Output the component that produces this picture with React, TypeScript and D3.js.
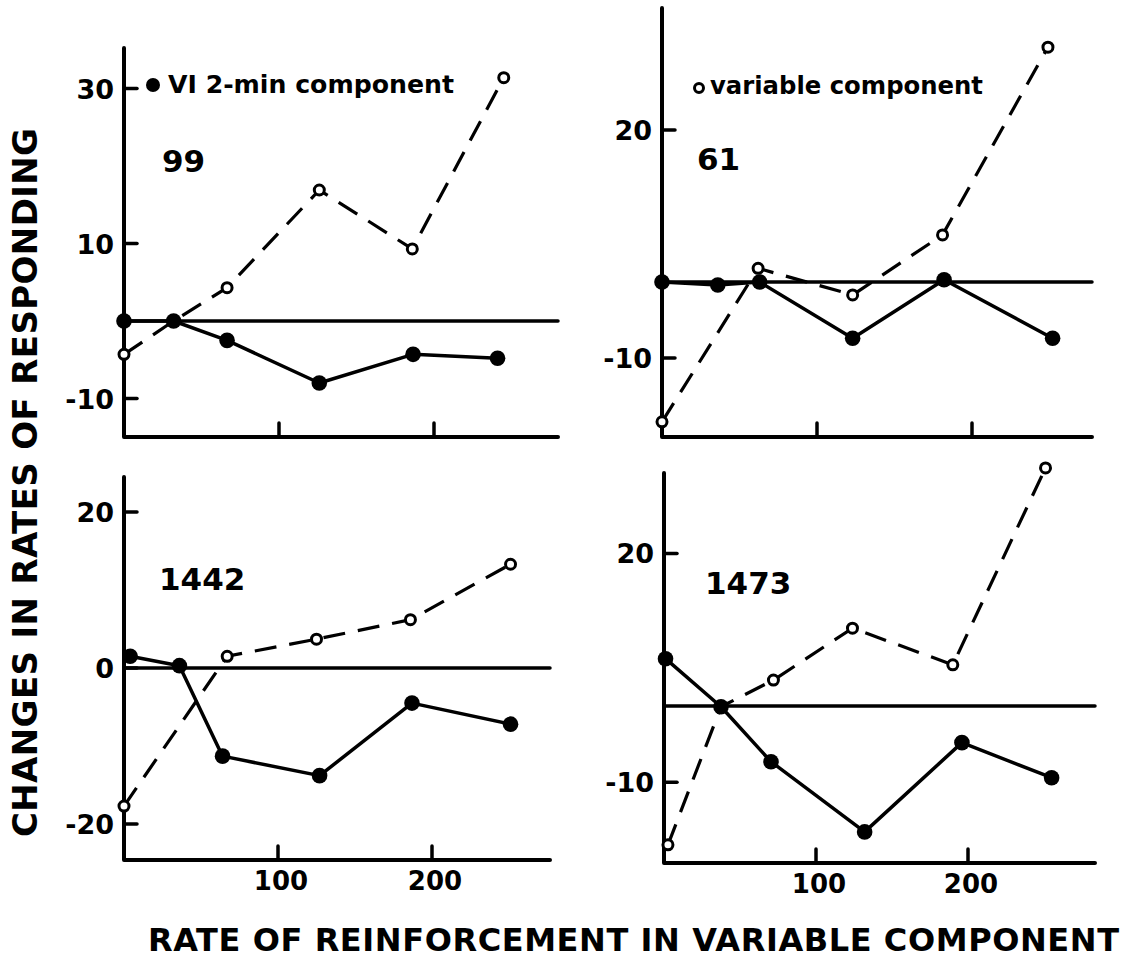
import React from "react";
import * as d3 from "d3";

// ---------- data ----------
const SUBJECTS = ["99", "61", "1442", "1473"];
const X_TICKS = [100, 200];

// subject 99
const s99ViX = [0, 32, 66.5, 126, 186.5, 241];
const s99ViY = [0, 0, -2.5, -8.0, -4.3, -4.8];
const s99VarX = [0, 32, 66.5, 126, 186, 245];
const s99VarY = [-4.3, 0, 4.3, 16.9, 9.3, 31.4];
const s99YTicks = [30, 10, -10];

// subject 61
const s61ViX = [0, 36, 63, 123, 182, 252];
const s61ViY = [0, -0.4, 0, -7.4, 0.3, -7.4];
const s61VarX = [0, 62, 123, 181, 249];
const s61VarY = [-18.4, 1.8, -1.7, 6.2, 30.9];
const s61YTicks = [20, -10];

// subject 1442
const s1442ViX = [4, 36, 64, 127, 187, 251];
const s1442ViY = [1.5, 0.3, -11.3, -13.8, -4.5, -7.2];
const s1442VarX = [0, 67, 125, 186, 251];
const s1442VarY = [-17.7, 1.5, 3.7, 6.2, 13.3];
const s1442YTicks = [20, 0, -20];

// subject 1473
const s1473ViX = [1, 37.5, 70.4, 132, 196, 255];
const s1473ViY = [6.2, -0.1, -7.3, -16.5, -4.8, -9.4];
const s1473VarX = [2.6, 37.5, 72, 124, 190, 251];
const s1473VarY = [-18.2, -0.1, 3.4, 10.2, 5.4, 31.2];
const s1473YTicks = [20, -10];

const LEGEND_VI = "VI 2-min component";
const LEGEND_VAR = "variable component";
const X_TITLE = "RATE OF REINFORCEMENT IN VARIABLE COMPONENT";
const Y_TITLE = "CHANGES IN RATES OF RESPONDING";

const SERIES = [
  { viX: s99ViX, viY: s99ViY, varX: s99VarX, varY: s99VarY, yTicks: s99YTicks },
  { viX: s61ViX, viY: s61ViY, varX: s61VarX, varY: s61VarY, yTicks: s61YTicks },
  { viX: s1442ViX, viY: s1442ViY, varX: s1442VarX, varY: s1442VarY, yTicks: s1442YTicks },
  { viX: s1473ViX, viY: s1473ViY, varX: s1473VarX, varY: s1473VarY, yTicks: s1473YTicks },
];

// ---------- layout (pixels) ----------
const FRAMES = [
  { x0: 124, x1: 558, top: 48, bot: 437, pxX: 1.55, zeroY: 321, pxY: 7.75, label: [162, 172], showXLabels: false },
  { x0: 662, x1: 1092, top: 8, bot: 437, pxX: 1.55, zeroY: 282, pxY: 7.6, label: [697, 170], showXLabels: false },
  { x0: 124, x1: 550, top: 477, bot: 860, pxX: 1.54, zeroY: 668, pxY: 7.8, label: [159, 590], showXLabels: true },
  { x0: 664, x1: 1095, top: 473, bot: 863, pxX: 1.52, zeroY: 706, pxY: 7.63, label: [705, 594], showXLabels: true },
];

const FONT = "'DejaVu Sans', 'Liberation Sans', sans-serif";
const INK = "#000";

function Panel({ idx }: { idx: number }) {
  const f = FRAMES[idx];
  const s = SERIES[idx];
  const x = d3.scaleLinear().domain([0, (f.x1 - f.x0) / f.pxX]).range([f.x0, f.x1]);
  const y = d3
    .scaleLinear()
    .domain([-(f.bot - f.zeroY) / f.pxY, (f.zeroY - f.top) / f.pxY])
    .range([f.bot, f.top]);
  const line = d3
    .line<[number, number]>()
    .x((d) => x(d[0]))
    .y((d) => y(d[1]));
  const vi: [number, number][] = s.viX.map((v, i) => [v, s.viY[i]]);
  const vr: [number, number][] = s.varX.map((v, i) => [v, s.varY[i]]);
  return (
    <g>
      {/* axes */}
      <path
        d={`M${f.x0},${f.top}L${f.x0},${f.bot}L${f.x1},${f.bot}`}
        fill="none"
        stroke={INK}
        strokeWidth={4}
        strokeLinecap="round"
        strokeLinejoin="round"
      />
      {/* zero line */}
      <line x1={f.x0} x2={f.x1} y1={y(0)} y2={y(0)} stroke={INK} strokeWidth={3.5} strokeLinecap="round" />
      {/* y ticks */}
      {s.yTicks.map((t) => (
        <g key={t}>
          <line x1={f.x0} x2={f.x0 + 13} y1={y(t)} y2={y(t)} stroke={INK} strokeWidth={3.5} strokeLinecap="round" />
          <text
            x={f.x0 - 10}
            y={y(t) + 10}
            textAnchor="end"
            fontFamily={FONT}
            fontWeight="bold"
            fontSize={27}
            fill={INK}
          >
            {t < 0 ? "-" + Math.abs(t) : String(t)}
          </text>
        </g>
      ))}
      {/* x ticks */}
      {X_TICKS.map((t) => (
        <g key={t}>
          <line x1={x(t)} x2={x(t)} y1={f.bot} y2={f.bot - 14} stroke={INK} strokeWidth={3.5} strokeLinecap="round" />
          {f.showXLabels && (
            <text
              x={x(t) + 3}
              y={f.bot + 30}
              textAnchor="middle"
              fontFamily={FONT}
              fontWeight="bold"
              fontSize={26}
              fill={INK}
            >
              {t}
            </text>
          )}
        </g>
      ))}
      {/* variable component (dashed) */}
      <path d={line(vr) || ""} fill="none" stroke={INK} strokeWidth={3.2} strokeDasharray="22 13" />
      {/* VI component (solid) */}
      <path d={line(vi) || ""} fill="none" stroke={INK} strokeWidth={3.5} strokeLinejoin="round" />
      {vr.map((d, i) => (
        <circle key={"o" + i} cx={x(d[0])} cy={y(d[1])} r={5} fill="#fff" stroke={INK} strokeWidth={3} />
      ))}
      {vi.map((d, i) => (
        <circle key={"f" + i} cx={x(d[0])} cy={y(d[1])} r={7.8} fill={INK} />
      ))}
      {/* subject label */}
      <text x={f.label[0]} y={f.label[1]} fontFamily={FONT} fontWeight="bold" fontSize={31} fill={INK}>
        {SUBJECTS[idx]}
      </text>
    </g>
  );
}

export default function App() {
  return (
    <svg
      width={1136}
      height={959}
      viewBox="0 0 1136 959"
      style={{ position: "absolute", left: 0, top: 0, background: "#fff" }}
    >
      <rect width={1136} height={959} fill="#fff" />
      {FRAMES.map((_, i) => (
        <Panel key={i} idx={i} />
      ))}
      {/* legends */}
      <circle cx={153} cy={85} r={7} fill={INK} />
      <text
        x={168}
        y={93}
        fontFamily={FONT}
        fontWeight="bold"
        fontSize={25}
        fill={INK}
        textLength={286}
        lengthAdjust="spacingAndGlyphs"
      >
        {LEGEND_VI}
      </text>
      <circle cx={699} cy={88} r={4.5} fill="#fff" stroke={INK} strokeWidth={3} />
      <text
        x={710}
        y={94}
        fontFamily={FONT}
        fontWeight="bold"
        fontSize={25}
        fill={INK}
        textLength={273}
        lengthAdjust="spacingAndGlyphs"
      >
        {LEGEND_VAR}
      </text>
      {/* axis titles */}
      <text
        x={148}
        y={951}
        fontFamily={FONT}
        fontWeight="bold"
        fontSize={32}
        fill={INK}
        textLength={971}
        lengthAdjust="spacing"
      >
        {X_TITLE}
      </text>
      <text
        transform="translate(37,837) rotate(-90)"
        x={0}
        y={0}
        fontFamily={FONT}
        fontWeight="bold"
        fontSize={34}
        fill={INK}
        textLength={709}
        lengthAdjust="spacing"
      >
        {Y_TITLE}
      </text>
    </svg>
  );
}
